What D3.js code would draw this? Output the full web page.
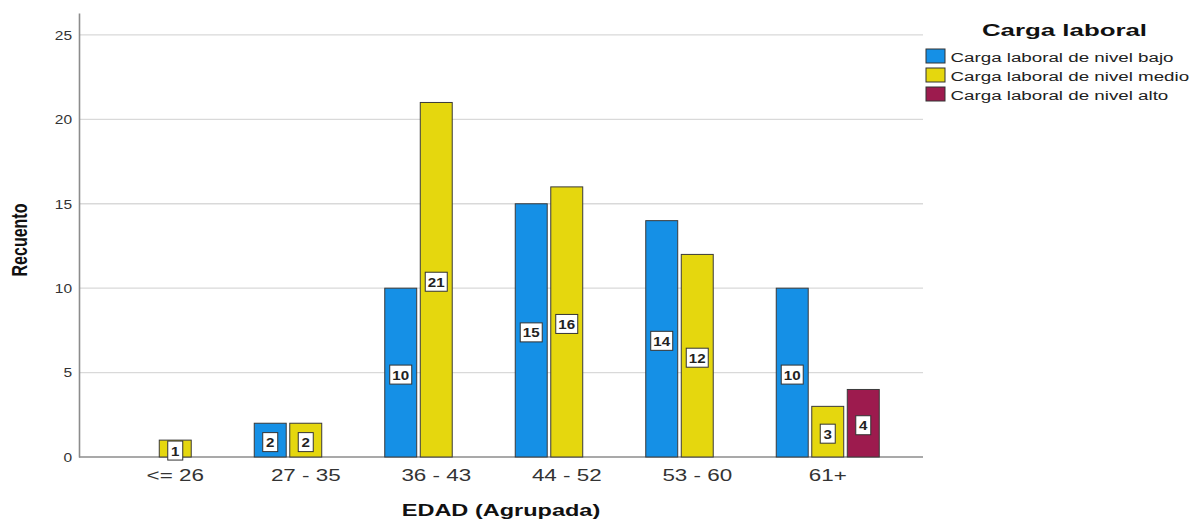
<!DOCTYPE html>
<html>
<head>
<meta charset="utf-8">
<script src="https://cdn.jsdelivr.net/npm/d3@7"></script>
<style>
  body { margin: 0; background: #fff; }
  svg { display: block; }
</style>
</head>
<body>
<svg id="chart" width="1191" height="520"></svg>
<script>
const categories = ["<= 26", "27 - 35", "36 - 43", "44 - 52", "53 - 60", "61+"];
const seriesNames = ["Carga laboral de nivel bajo", "Carga laboral de nivel medio", "Carga laboral de nivel alto"];
const bajo  = [0, 2, 10, 15, 14, 10];
const medio = [1, 2, 21, 16, 12, 3];
const alto  = [0, 0, 0, 0, 0, 4];
const yTicks = [0, 5, 10, 15, 20, 25];
const colors = ["#1590e6", "#e5d70e", "#9d1b4e"];

(function () {
const FONT = "Liberation Sans, Arial, sans-serif";
const seriesValues = [bajo, medio, alto];
const data = [];
categories.forEach((c, i) => {
  seriesValues.forEach((vals, s) => {
    if (vals[i] > 0) data.push({ cat: c, s: seriesNames[s], idx: s, v: vals[i] });
  });
});

const svg = d3.select("#chart");
const mLeft = 79, mRight = 923, mTop = 13, mBottom = 457;

const y = d3.scaleLinear().domain([0, 26.3]).range([mBottom, mTop]);
const x = d3.scaleBand().domain(categories).range([110, 893]).padding(0);
const xs = d3.scaleBand().domain(seriesNames).range([-51.5, 51.5]).paddingInner(0.1);

// gridlines
svg.append("g").selectAll("line").data(yTicks.filter(d => d > 0)).join("line")
  .attr("x1", mLeft).attr("x2", mRight)
  .attr("y1", d => y(d)).attr("y2", d => y(d))
  .attr("stroke", "#d9d9d9").attr("stroke-width", 1.3);

// y axis
const ys = 1.15;
const yAxis = svg.append("g").attr("transform", `translate(${mLeft},0)`)
  .call(d3.axisLeft(y).tickValues(yTicks).tickSize(0).tickPadding(7));
yAxis.select(".domain").attr("stroke", "#8c8c8c").attr("stroke-width", 1.6);
yAxis.selectAll("text").attr("font-family", FONT)
  .attr("font-size", 13.5).attr("fill", "#333")
  .attr("x", -7 / ys).attr("transform", `scale(${ys},1)`);

// x axis
const xAxis = svg.append("g").attr("transform", `translate(0,${mBottom})`)
  .call(d3.axisBottom(x).tickSize(0).tickPadding(13));
xAxis.select(".domain").remove();
svg.append("line").attr("x1", mLeft).attr("x2", mRight).attr("y1", mBottom).attr("y2", mBottom)
  .attr("stroke", "#8c8c8c").attr("stroke-width", 1.3);
xAxis.selectAll("text").attr("font-family", FONT)
  .attr("font-size", 16).attr("fill", "#333")
  .attr("transform", "scale(1.4,1)");

// bars
const bars = svg.append("g").selectAll("g").data(data).join("g")
  .attr("transform", d => `translate(${x(d.cat) + x.bandwidth() / 2 + xs(d.s)},0)`);
bars.append("rect")
  .attr("x", 0).attr("width", xs.bandwidth())
  .attr("y", d => y(d.v)).attr("height", d => y(0) - y(d.v))
  .attr("fill", d => colors[d.idx]).attr("stroke", "#3a3a3a").attr("stroke-width", 1);

// value labels
bars.each(function(d) {
  const g = d3.select(this);
  const cy = (y(d.v) + y(0)) / 2 + 2;
  const label = String(d.v);
  const w = label.length > 1 ? 22 : 15;
  const h = 19;
  g.append("rect")
    .attr("x", xs.bandwidth() / 2 - w / 2).attr("y", cy - h / 2)
    .attr("width", w).attr("height", h)
    .attr("fill", "#fff").attr("stroke", "#333").attr("stroke-width", 1);
  g.append("text")
    .attr("transform", `translate(${xs.bandwidth() / 2},${cy + 5}) scale(1.12,1)`)
    .attr("text-anchor", "middle")
    .attr("font-family", FONT)
    .attr("font-size", 13.5).attr("font-weight", "bold").attr("fill", "#222")
    .text(label);
});

// axis titles
svg.append("text")
  .attr("transform", `translate(27,240) scale(1.35,1) rotate(-90)`)
  .attr("text-anchor", "middle")
  .attr("font-family", FONT)
  .attr("font-size", 16).attr("font-weight", "bold").attr("fill", "#111")
  .text("Recuento");

svg.append("text")
  .attr("transform", "translate(501,516) scale(1.47,1)")
  .attr("text-anchor", "middle")
  .attr("font-family", FONT)
  .attr("font-size", 16).attr("font-weight", "bold").attr("fill", "#111")
  .text("EDAD (Agrupada)");

// legend
svg.append("text")
  .attr("transform", "translate(1064.5,36) scale(1.52,1)")
  .attr("text-anchor", "middle")
  .attr("font-family", FONT)
  .attr("font-size", 17).attr("font-weight", "bold").attr("fill", "#111")
  .text("Carga laboral");

const lg = svg.append("g").selectAll("g").data(seriesNames).join("g")
  .attr("transform", (d, i) => `translate(926,${49 + i * 19})`);
lg.append("rect").attr("width", 19).attr("height", 14)
  .attr("fill", (d, i) => colors[i]).attr("stroke", "#333").attr("stroke-width", 1);
lg.append("text")
  .attr("transform", "translate(24.5,12.5) scale(1.39,1)")
  .attr("font-family", FONT)
  .attr("font-size", 13.5).attr("fill", "#222")
  .text(d => d);
})();
</script>
</body>
</html>
